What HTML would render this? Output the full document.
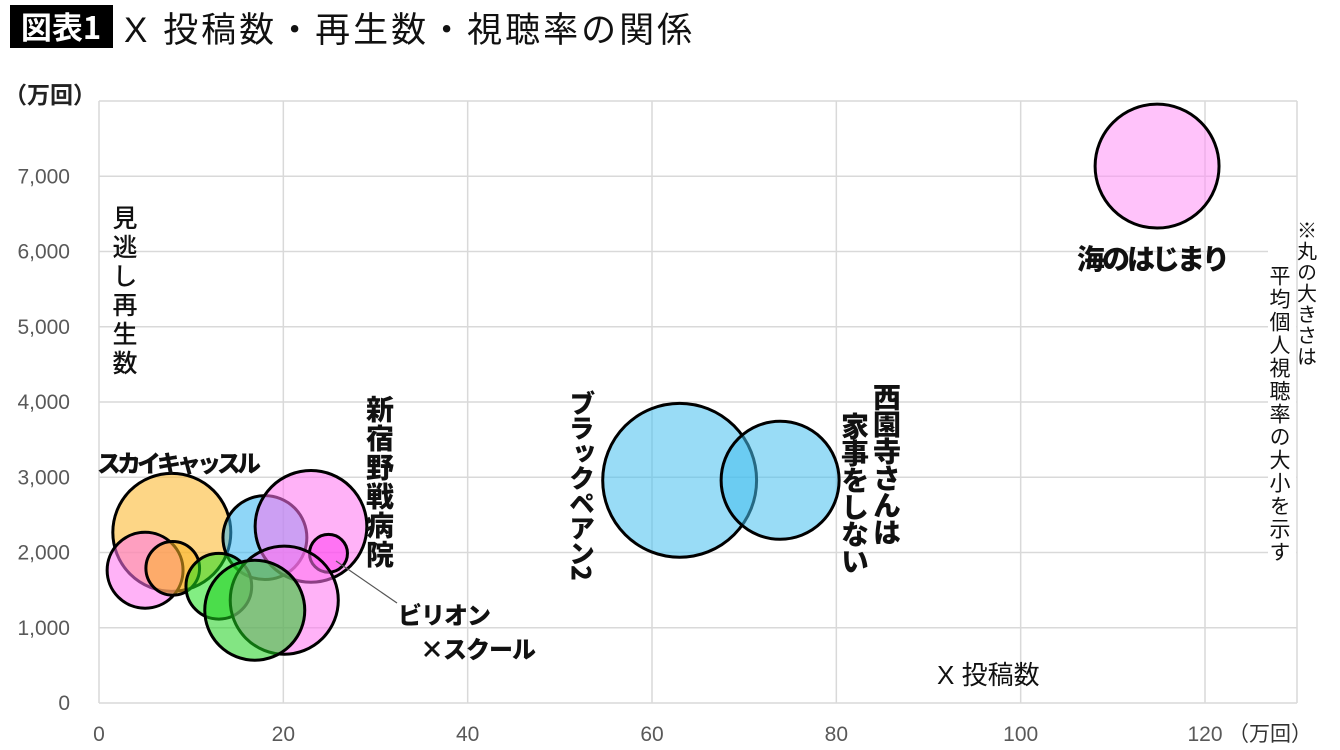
<!DOCTYPE html>
<html><head><meta charset="utf-8"><style>
html,body{margin:0;padding:0;background:#fff;}
svg{display:block;font-family:"Liberation Sans","Noto Sans CJK JP",sans-serif;}
.tick{font-size:21px;fill:#595959;}
.lab{font-weight:900;fill:#111;font-family:"Noto Sans CJK JP",sans-serif;}
.vt{writing-mode:vertical-rl;}
</style></head><body>
<svg id="chart" width="1340" height="750" viewBox="0 0 1340 750">
<rect x="10" y="5" width="103" height="43" fill="#000"/>
<text x="61" y="39" text-anchor="middle" font-size="31" font-weight="bold" fill="#fff" font-family="Noto Sans CJK JP,sans-serif">図表1</text>
<text x="124" y="42" font-size="35" fill="#111" font-family="Liberation Sans,Noto Sans CJK JP,sans-serif" style="letter-spacing:3px">X 投稿数・再生数・視聴率の関係</text>
<text x="4" y="103" font-size="23" font-weight="bold" fill="#222" font-family="Noto Sans CJK JP,sans-serif">（万回）</text>
<g id="grid"></g>
<g id="ticks"></g>
<g id="bubbles"></g>
<text x="125" y="205" class="lab vt" font-size="25" style="font-weight:500;letter-spacing:4px">見逃し再生数</text>
<text x="97" y="472" class="lab" font-size="24" style="letter-spacing:-4px">スカイキャッスル</text>
<text x="380" y="395" class="lab vt" font-size="28" style="letter-spacing:1px">新宿野戦病院</text>
<line x1="336" y1="561" x2="397" y2="603" stroke="#555" stroke-width="1.2"/>
<text x="398" y="624" class="lab" font-size="24" style="letter-spacing:-1px">ビリオン</text>
<text x="420" y="658" class="lab" font-size="24" style="letter-spacing:-1px">×スクール</text>
<text x="582" y="390" class="lab vt" font-size="26" style="letter-spacing:-1px">ブラックペアン2</text>
<text x="887" y="383" class="lab vt" font-size="28" style="letter-spacing:-1px">西園寺さんは</text>
<text x="855" y="412" class="lab vt" font-size="28" style="letter-spacing:-1px">家事をしない</text>
<text x="1077" y="269" class="lab" font-size="28" style="letter-spacing:-3px">海のはじまり</text>
<text x="937" y="684" font-size="26" fill="#111" font-family="Liberation Sans,Noto Sans CJK JP,sans-serif">X 投稿数</text>
<rect x="1268" y="218" width="28" height="358" fill="#fff"/>
<text x="1307" y="220" class="vt" font-size="20" fill="#111" font-family="Noto Sans CJK JP,sans-serif" style="letter-spacing:1px">※丸の大きさは</text>
<text x="1280" y="265" class="vt" font-size="21" fill="#111" font-family="Noto Sans CJK JP,sans-serif" style="letter-spacing:2px">平均個人視聴率の大小を示す</text>
</svg>
<script>
const names=["スカイキャッスル","スカイキャッスル2","スカイキャッスル3","ブルー1","新宿野戦病院","ビリオン×スクール","グリーン1","ピンク2","グリーン2","ブラックペアン2","西園寺さんは家事をしない","海のはじまり"];
const posts=[7.9,5.0,8.0,18.0,23.0,24.9,13.0,20.1,16.9,63.0,73.9,114.8];
const plays=[2268,1764,1790,2198,2347,1989,1552,1366,1233,2960,2960,7135];
const ratings=[8.7,3.6,1.8,4.4,7.8,0.9,2.7,7.3,6.25,14.8,8.7,9.6];
const colors=["#fbb423","#ff73f0","#fbb423","#33b5f0","#ff73f0","#ff40f0","#1ee01e","#ff73f0","#1ed01e","#45bfee","#45bfee","#ff90f5"];
const xTicks=[0,20,40,60,80,100,120];
const yTicks=[0,1000,2000,3000,4000,5000,6000,7000];
const X0=99,X1=1297,Y0=703,YT=101;
const xs=v=>X0+v*(1205-99)/120;
const ys=v=>Y0-v*(Y0-YT)/8000;
const rs=v=>20*Math.sqrt(v);
const NS="http://www.w3.org/2000/svg";
function mk(t,a,p){const e=document.createElementNS(NS,t);for(const k in a)e.setAttribute(k,a[k]);p.appendChild(e);return e;}
const grid=document.getElementById('grid'),ticks=document.getElementById('ticks'),bub=document.getElementById('bubbles');
xTicks.concat([130]).forEach(v=>{const x=Math.min(xs(v),X1);const l=mk('line',{x1:x,x2:x,y1:YT,y2:Y0,stroke:'#d9d9d9','stroke-width':1.5},grid);

});
yTicks.concat([8000]).forEach(v=>{const l=mk('line',{x1:X0,x2:X1,y1:ys(v),y2:ys(v),stroke:'#d9d9d9','stroke-width':1.5},grid);

});
xTicks.forEach(v=>{const t=mk('text',{x:xs(v),y:741,'text-anchor':'middle',class:'tick'},ticks);t.textContent=v;

});
const u=mk('text',{x:1228,y:741,class:'tick',style:'fill:#333;font-size:21px'},ticks);u.textContent='（万回）';


yTicks.forEach(v=>{const t=mk('text',{x:70,y:ys(v)+7,'text-anchor':'end',class:'tick'},ticks);t.textContent=v.toLocaleString('en-US');

});
posts.forEach((p,i)=>{const c=mk('circle',{cx:xs(p),cy:ys(plays[i]),r:rs(ratings[i]),fill:colors[i],'fill-opacity':0.55,stroke:'#000','stroke-width':3},bub);


const tt=mk('title',{},c);tt.textContent=names[i];});
</script>
</body></html>
